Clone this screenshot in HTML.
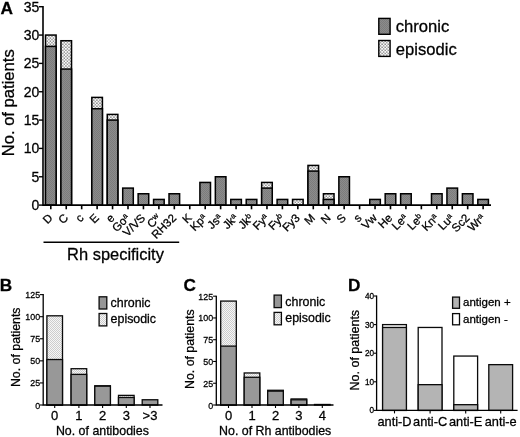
<!DOCTYPE html>
<html lang="en">
<head>
<meta charset="utf-8">
<title>Figure</title>
<style>
html,body{margin:0;padding:0;background:#fff;}
body{width:520px;height:437px;overflow:hidden;}
svg{display:block;font-family:"Liberation Sans", sans-serif;fill:#111;}
svg text{fill:#000;stroke:#000;stroke-width:.28px;}
</style>
</head>
<body>
<svg width="520" height="437" viewBox="0 0 520 437">
<defs>
<pattern id="pChronic" width="2" height="2" patternUnits="userSpaceOnUse">
<rect width="2" height="2" fill="#8c8c8c"/>
<rect width="1" height="1" fill="#7c7c7c"/><rect x="1" y="1" width="1" height="1" fill="#7c7c7c"/>
</pattern>
<pattern id="pEpis" width="3.1" height="3.1" patternUnits="userSpaceOnUse">
<rect width="3.1" height="3.1" fill="#fbfbfb"/>
<circle cx="0.8" cy="0.8" r="0.7" fill="#5a5a5a"/><circle cx="2.35" cy="2.35" r="0.7" fill="#5a5a5a"/>
</pattern>
<pattern id="pEpis2" width="2" height="2" patternUnits="userSpaceOnUse">
<rect width="2" height="2" fill="#f6f6f6"/>
<rect width="1" height="1" fill="#cdcdcd"/><rect x="1" y="1" width="1" height="1" fill="#cdcdcd"/>
</pattern>
</defs>
<rect width="520" height="437" fill="#fff"/>
<g id="panelA">
<rect x="45.50" y="35.06" width="10.60" height="170.04" fill="url(#pEpis)" stroke="#000" stroke-width="1.5"/>
<rect x="45.50" y="46.40" width="10.60" height="158.70" fill="url(#pChronic)" stroke="#000" stroke-width="1.5"/>
<rect x="60.94" y="40.73" width="10.60" height="164.37" fill="url(#pEpis)" stroke="#000" stroke-width="1.5"/>
<rect x="60.94" y="69.07" width="10.60" height="136.03" fill="url(#pChronic)" stroke="#000" stroke-width="1.5"/>

<rect x="91.82" y="97.41" width="10.60" height="107.69" fill="url(#pEpis)" stroke="#000" stroke-width="1.5"/>
<rect x="91.82" y="108.74" width="10.60" height="96.36" fill="url(#pChronic)" stroke="#000" stroke-width="1.5"/>
<rect x="107.26" y="114.41" width="10.60" height="90.69" fill="url(#pEpis)" stroke="#000" stroke-width="1.5"/>
<rect x="107.26" y="120.08" width="10.60" height="85.02" fill="url(#pChronic)" stroke="#000" stroke-width="1.5"/>
<rect x="122.70" y="188.10" width="10.60" height="17.00" fill="url(#pChronic)" stroke="#000" stroke-width="1.5"/>
<rect x="138.14" y="193.76" width="10.60" height="11.34" fill="url(#pChronic)" stroke="#000" stroke-width="1.5"/>
<rect x="153.58" y="199.43" width="10.60" height="5.67" fill="url(#pChronic)" stroke="#000" stroke-width="1.5"/>
<rect x="169.02" y="193.76" width="10.60" height="11.34" fill="url(#pChronic)" stroke="#000" stroke-width="1.5"/>

<rect x="199.90" y="182.43" width="10.60" height="22.67" fill="url(#pChronic)" stroke="#000" stroke-width="1.5"/>
<rect x="215.34" y="176.76" width="10.60" height="28.34" fill="url(#pChronic)" stroke="#000" stroke-width="1.5"/>
<rect x="230.78" y="199.43" width="10.60" height="5.67" fill="url(#pChronic)" stroke="#000" stroke-width="1.5"/>
<rect x="246.22" y="199.43" width="10.60" height="5.67" fill="url(#pChronic)" stroke="#000" stroke-width="1.5"/>
<rect x="261.66" y="182.43" width="10.60" height="22.67" fill="url(#pEpis)" stroke="#000" stroke-width="1.5"/>
<rect x="261.66" y="188.10" width="10.60" height="17.00" fill="url(#pChronic)" stroke="#000" stroke-width="1.5"/>
<rect x="277.10" y="199.43" width="10.60" height="5.67" fill="url(#pChronic)" stroke="#000" stroke-width="1.5"/>
<rect x="292.54" y="199.43" width="10.60" height="5.67" fill="url(#pEpis)" stroke="#000" stroke-width="1.5"/>
<rect x="307.98" y="165.42" width="10.60" height="39.68" fill="url(#pEpis)" stroke="#000" stroke-width="1.5"/>
<rect x="307.98" y="171.09" width="10.60" height="34.01" fill="url(#pChronic)" stroke="#000" stroke-width="1.5"/>
<rect x="323.42" y="193.76" width="10.60" height="11.34" fill="url(#pEpis)" stroke="#000" stroke-width="1.5"/>
<rect x="323.42" y="199.43" width="10.60" height="5.67" fill="url(#pChronic)" stroke="#000" stroke-width="1.5"/>
<rect x="338.86" y="176.76" width="10.60" height="28.34" fill="url(#pChronic)" stroke="#000" stroke-width="1.5"/>

<rect x="369.74" y="199.43" width="10.60" height="5.67" fill="url(#pChronic)" stroke="#000" stroke-width="1.5"/>
<rect x="385.18" y="193.76" width="10.60" height="11.34" fill="url(#pChronic)" stroke="#000" stroke-width="1.5"/>
<rect x="400.62" y="193.76" width="10.60" height="11.34" fill="url(#pChronic)" stroke="#000" stroke-width="1.5"/>

<rect x="431.50" y="193.76" width="10.60" height="11.34" fill="url(#pChronic)" stroke="#000" stroke-width="1.5"/>
<rect x="446.94" y="188.10" width="10.60" height="17.00" fill="url(#pChronic)" stroke="#000" stroke-width="1.5"/>
<rect x="462.38" y="193.76" width="10.60" height="11.34" fill="url(#pChronic)" stroke="#000" stroke-width="1.5"/>
<rect x="477.82" y="199.43" width="10.60" height="5.67" fill="url(#pChronic)" stroke="#000" stroke-width="1.5"/>
<path d="M43.0 6.0V205.1H491" fill="none" stroke="#000" stroke-width="1.6"/>
<path d="M39.00 205.10H43.0" stroke="#000" stroke-width="1.4"/>
<text x="39.40" y="210.10" font-size="14" text-anchor="end">0</text>
<path d="M39.00 176.76H43.0" stroke="#000" stroke-width="1.4"/>
<text x="39.40" y="181.76" font-size="14" text-anchor="end">5</text>
<path d="M39.00 148.42H43.0" stroke="#000" stroke-width="1.4"/>
<text x="39.40" y="153.42" font-size="14" text-anchor="end">10</text>
<path d="M39.00 120.08H43.0" stroke="#000" stroke-width="1.4"/>
<text x="39.40" y="125.08" font-size="14" text-anchor="end">15</text>
<path d="M39.00 91.74H43.0" stroke="#000" stroke-width="1.4"/>
<text x="39.40" y="96.74" font-size="14" text-anchor="end">20</text>
<path d="M39.00 63.40H43.0" stroke="#000" stroke-width="1.4"/>
<text x="39.40" y="68.40" font-size="14" text-anchor="end">25</text>
<path d="M39.00 35.06H43.0" stroke="#000" stroke-width="1.4"/>
<text x="39.40" y="40.06" font-size="14" text-anchor="end">30</text>
<path d="M39.00 6.72H43.0" stroke="#000" stroke-width="1.4"/>
<text x="39.40" y="11.72" font-size="14" text-anchor="end">35</text>
<path d="M50.80 205.1v4.2" stroke="#000" stroke-width="1.6"/>
<text transform="translate(53.40 218.70) rotate(-45)" font-size="11.5" text-anchor="end">D</text>
<path d="M66.24 205.1v4.2" stroke="#000" stroke-width="1.6"/>
<text transform="translate(68.84 218.70) rotate(-45)" font-size="11.5" text-anchor="end">C</text>
<path d="M81.68 205.1v4.2" stroke="#000" stroke-width="1.6"/>
<text transform="translate(84.28 218.70) rotate(-45)" font-size="11.5" text-anchor="end">c</text>
<path d="M97.12 205.1v4.2" stroke="#000" stroke-width="1.6"/>
<text transform="translate(99.72 218.70) rotate(-45)" font-size="11.5" text-anchor="end">E</text>
<path d="M112.56 205.1v4.2" stroke="#000" stroke-width="1.6"/>
<text transform="translate(115.16 218.70) rotate(-45)" font-size="11.5" text-anchor="end">e</text>
<path d="M128.00 205.1v4.2" stroke="#000" stroke-width="1.6"/>
<text transform="translate(130.60 218.70) rotate(-45)" font-size="11.5" text-anchor="end">Go<tspan font-size="7.6" dy="-3.6">a</tspan></text>
<path d="M143.44 205.1v4.2" stroke="#000" stroke-width="1.6"/>
<text transform="translate(146.04 218.70) rotate(-45)" font-size="11.5" text-anchor="end">V/VS</text>
<path d="M158.88 205.1v4.2" stroke="#000" stroke-width="1.6"/>
<text transform="translate(161.48 218.70) rotate(-45)" font-size="11.5" text-anchor="end">C<tspan font-size="7.6" dy="-3.6">w</tspan></text>
<path d="M174.32 205.1v4.2" stroke="#000" stroke-width="1.6"/>
<text transform="translate(176.92 218.70) rotate(-45)" font-size="11.5" text-anchor="end">RH32</text>
<path d="M189.76 205.1v4.2" stroke="#000" stroke-width="1.6"/>
<text transform="translate(192.36 218.70) rotate(-45)" font-size="11.5" text-anchor="end">K</text>
<path d="M205.20 205.1v4.2" stroke="#000" stroke-width="1.6"/>
<text transform="translate(207.80 218.70) rotate(-45)" font-size="11.5" text-anchor="end">Kp<tspan font-size="7.6" dy="-3.6">a</tspan></text>
<path d="M220.64 205.1v4.2" stroke="#000" stroke-width="1.6"/>
<text transform="translate(223.24 218.70) rotate(-45)" font-size="11.5" text-anchor="end">Js<tspan font-size="7.6" dy="-3.6">a</tspan></text>
<path d="M236.08 205.1v4.2" stroke="#000" stroke-width="1.6"/>
<text transform="translate(238.68 218.70) rotate(-45)" font-size="11.5" text-anchor="end">Jk<tspan font-size="7.6" dy="-3.6">a</tspan></text>
<path d="M251.52 205.1v4.2" stroke="#000" stroke-width="1.6"/>
<text transform="translate(254.12 218.70) rotate(-45)" font-size="11.5" text-anchor="end">Jk<tspan font-size="7.6" dy="-3.6">b</tspan></text>
<path d="M266.96 205.1v4.2" stroke="#000" stroke-width="1.6"/>
<text transform="translate(269.56 218.70) rotate(-45)" font-size="11.5" text-anchor="end">Fy<tspan font-size="7.6" dy="-3.6">a</tspan></text>
<path d="M282.40 205.1v4.2" stroke="#000" stroke-width="1.6"/>
<text transform="translate(285.00 218.70) rotate(-45)" font-size="11.5" text-anchor="end">Fy<tspan font-size="7.6" dy="-3.6">b</tspan></text>
<path d="M297.84 205.1v4.2" stroke="#000" stroke-width="1.6"/>
<text transform="translate(300.44 218.70) rotate(-45)" font-size="11.5" text-anchor="end">Fy3</text>
<path d="M313.28 205.1v4.2" stroke="#000" stroke-width="1.6"/>
<text transform="translate(315.88 218.70) rotate(-45)" font-size="11.5" text-anchor="end">M</text>
<path d="M328.72 205.1v4.2" stroke="#000" stroke-width="1.6"/>
<text transform="translate(331.32 218.70) rotate(-45)" font-size="11.5" text-anchor="end">N</text>
<path d="M344.16 205.1v4.2" stroke="#000" stroke-width="1.6"/>
<text transform="translate(346.76 218.70) rotate(-45)" font-size="11.5" text-anchor="end">S</text>
<path d="M359.60 205.1v4.2" stroke="#000" stroke-width="1.6"/>
<text transform="translate(362.20 218.70) rotate(-45)" font-size="11.5" text-anchor="end">s</text>
<path d="M375.04 205.1v4.2" stroke="#000" stroke-width="1.6"/>
<text transform="translate(377.64 218.70) rotate(-45)" font-size="11.5" text-anchor="end">Vw</text>
<path d="M390.48 205.1v4.2" stroke="#000" stroke-width="1.6"/>
<text transform="translate(393.08 218.70) rotate(-45)" font-size="11.5" text-anchor="end">He</text>
<path d="M405.92 205.1v4.2" stroke="#000" stroke-width="1.6"/>
<text transform="translate(408.52 218.70) rotate(-45)" font-size="11.5" text-anchor="end">Le<tspan font-size="7.6" dy="-3.6">a</tspan></text>
<path d="M421.36 205.1v4.2" stroke="#000" stroke-width="1.6"/>
<text transform="translate(423.96 218.70) rotate(-45)" font-size="11.5" text-anchor="end">Le<tspan font-size="7.6" dy="-3.6">b</tspan></text>
<path d="M436.80 205.1v4.2" stroke="#000" stroke-width="1.6"/>
<text transform="translate(439.40 218.70) rotate(-45)" font-size="11.5" text-anchor="end">Kn<tspan font-size="7.6" dy="-3.6">a</tspan></text>
<path d="M452.24 205.1v4.2" stroke="#000" stroke-width="1.6"/>
<text transform="translate(454.84 218.70) rotate(-45)" font-size="11.5" text-anchor="end">Lu<tspan font-size="7.6" dy="-3.6">a</tspan></text>
<path d="M467.68 205.1v4.2" stroke="#000" stroke-width="1.6"/>
<text transform="translate(470.28 218.70) rotate(-45)" font-size="11.5" text-anchor="end">Sc2</text>
<path d="M483.12 205.1v4.2" stroke="#000" stroke-width="1.6"/>
<text transform="translate(485.72 218.70) rotate(-45)" font-size="11.5" text-anchor="end">Wr<tspan font-size="7.6" dy="-3.6">a</tspan></text>
<text transform="translate(14.2 102.8) rotate(-90)" font-size="16.6" text-anchor="middle">No. of patients</text>
<text x="0.6" y="13.7" font-size="17.3" font-weight="bold">A</text>
<rect x="378.8" y="18.4" width="11.3" height="15.9" fill="url(#pChronic)" stroke="#000" stroke-width="1.4"/>
<rect x="378.8" y="40.5" width="11.3" height="15.9" fill="url(#pEpis)" stroke="#000" stroke-width="1.4"/>
<text x="395.8" y="32.3" font-size="16.6">chronic</text>
<text x="395.8" y="54.5" font-size="16.6">episodic</text>
<path d="M43.5 242.2H179.2" stroke="#000" stroke-width="1.5"/>
<text x="115.5" y="260" font-size="16.45" text-anchor="middle">Rh specificity</text>
</g>
<g id="panelB">
<rect x="46.90" y="315.80" width="15.60" height="89.20" fill="url(#pEpis2)" stroke="#0a0a0a" stroke-width="1.3"/>
<rect x="46.90" y="359.53" width="15.60" height="45.47" fill="#989898" stroke="#0a0a0a" stroke-width="1.3"/>
<rect x="71.10" y="368.71" width="15.60" height="36.29" fill="url(#pEpis2)" stroke="#0a0a0a" stroke-width="1.3"/>
<rect x="71.10" y="374.39" width="15.60" height="30.61" fill="#989898" stroke="#0a0a0a" stroke-width="1.3"/>
<rect x="94.80" y="385.76" width="15.60" height="19.24" fill="url(#pEpis2)" stroke="#0a0a0a" stroke-width="1.3"/>
<rect x="94.80" y="386.20" width="15.60" height="18.80" fill="#989898" stroke="#0a0a0a" stroke-width="1.3"/>
<rect x="118.50" y="395.38" width="15.60" height="9.62" fill="url(#pEpis2)" stroke="#0a0a0a" stroke-width="1.3"/>
<rect x="118.50" y="397.48" width="15.60" height="7.52" fill="#989898" stroke="#0a0a0a" stroke-width="1.3"/>
<rect x="142.20" y="399.75" width="15.60" height="5.25" fill="#989898" stroke="#0a0a0a" stroke-width="1.3"/>
<path d="M43.2 294.12V405.0H162.5" fill="none" stroke="#000" stroke-width="1.3"/>
<path d="M40.00 405.00H43.2" stroke="#000" stroke-width="1.1"/>
<text transform="translate(40.10 408.50) scale(.9 1)" font-size="9.9" text-anchor="end">0</text>
<path d="M40.00 382.93H43.2" stroke="#000" stroke-width="1.1"/>
<text transform="translate(40.10 386.43) scale(.9 1)" font-size="9.9" text-anchor="end">25</text>
<path d="M40.00 360.85H43.2" stroke="#000" stroke-width="1.1"/>
<text transform="translate(40.10 364.35) scale(.9 1)" font-size="9.9" text-anchor="end">50</text>
<path d="M40.00 338.77H43.2" stroke="#000" stroke-width="1.1"/>
<text transform="translate(40.10 342.27) scale(.9 1)" font-size="9.9" text-anchor="end">75</text>
<path d="M40.00 316.70H43.2" stroke="#000" stroke-width="1.1"/>
<text transform="translate(40.10 320.20) scale(.9 1)" font-size="9.9" text-anchor="end">100</text>
<path d="M40.00 294.62H43.2" stroke="#000" stroke-width="1.1"/>
<text transform="translate(40.10 298.12) scale(.9 1)" font-size="9.9" text-anchor="end">125</text>
<path d="M54.70 405.0v3" stroke="#000" stroke-width="1.1"/>
<text x="54.70" y="419.60" font-size="13" text-anchor="middle">0</text>
<path d="M78.90 405.0v3" stroke="#000" stroke-width="1.1"/>
<text x="78.90" y="419.60" font-size="13" text-anchor="middle">1</text>
<path d="M102.60 405.0v3" stroke="#000" stroke-width="1.1"/>
<text x="102.60" y="419.60" font-size="13" text-anchor="middle">2</text>
<path d="M126.30 405.0v3" stroke="#000" stroke-width="1.1"/>
<text x="126.30" y="419.60" font-size="13" text-anchor="middle">3</text>
<path d="M150.00 405.0v3" stroke="#000" stroke-width="1.1"/>
<text x="150.00" y="419.60" font-size="13" text-anchor="middle">&gt;3</text>
<text x="102.4" y="435.3" font-size="12.4" text-anchor="middle">No. of antibodies</text>
<text transform="translate(19.8 347.3) rotate(-90)" font-size="12.35" text-anchor="middle">No. of patients</text>
<text x="-0.3" y="290.8" font-size="17.2" font-weight="bold">B</text>
<rect x="99.1" y="296.8" width="7.7" height="12.2" fill="#969696" stroke="#0a0a0a" stroke-width="1.3"/><rect x="99.1" y="313.5" width="7.7" height="12.4" fill="url(#pEpis2)" stroke="#0a0a0a" stroke-width="1.3"/><text x="110.6" y="306.5" font-size="12.4">chronic</text><text x="110.6" y="323.4" font-size="12.4">episodic</text>
</g>
<g id="panelC">
<rect x="220.70" y="301.08" width="15.60" height="103.92" fill="url(#pEpis2)" stroke="#0a0a0a" stroke-width="1.3"/>
<rect x="220.70" y="346.11" width="15.60" height="58.89" fill="#989898" stroke="#0a0a0a" stroke-width="1.3"/>
<rect x="244.20" y="372.96" width="15.60" height="32.04" fill="url(#pEpis2)" stroke="#0a0a0a" stroke-width="1.3"/>
<rect x="244.20" y="377.29" width="15.60" height="27.71" fill="#989898" stroke="#0a0a0a" stroke-width="1.3"/>
<rect x="267.70" y="390.28" width="15.60" height="14.72" fill="url(#pEpis2)" stroke="#0a0a0a" stroke-width="1.3"/>
<rect x="267.70" y="391.14" width="15.60" height="13.86" fill="#989898" stroke="#0a0a0a" stroke-width="1.3"/>
<rect x="291.10" y="398.94" width="15.60" height="6.06" fill="url(#pEpis2)" stroke="#0a0a0a" stroke-width="1.3"/>
<rect x="291.10" y="399.80" width="15.60" height="5.20" fill="#989898" stroke="#0a0a0a" stroke-width="1.3"/>
<rect x="314.50" y="404.48" width="15.60" height="0.52" fill="#989898" stroke="#0a0a0a" stroke-width="1.3"/>
<path d="M216.3 295.69V405.0H333.5" fill="none" stroke="#000" stroke-width="1.3"/>
<path d="M213.10 405.00H216.3" stroke="#000" stroke-width="1.1"/>
<text transform="translate(213.20 408.50) scale(.9 1)" font-size="9.9" text-anchor="end">0</text>
<path d="M213.10 383.24H216.3" stroke="#000" stroke-width="1.1"/>
<text transform="translate(213.20 386.74) scale(.9 1)" font-size="9.9" text-anchor="end">25</text>
<path d="M213.10 361.48H216.3" stroke="#000" stroke-width="1.1"/>
<text transform="translate(213.20 364.98) scale(.9 1)" font-size="9.9" text-anchor="end">50</text>
<path d="M213.10 339.71H216.3" stroke="#000" stroke-width="1.1"/>
<text transform="translate(213.20 343.21) scale(.9 1)" font-size="9.9" text-anchor="end">75</text>
<path d="M213.10 317.95H216.3" stroke="#000" stroke-width="1.1"/>
<text transform="translate(213.20 321.45) scale(.9 1)" font-size="9.9" text-anchor="end">100</text>
<path d="M213.10 296.19H216.3" stroke="#000" stroke-width="1.1"/>
<text transform="translate(213.20 299.69) scale(.9 1)" font-size="9.9" text-anchor="end">125</text>
<path d="M228.50 405.0v3" stroke="#000" stroke-width="1.1"/>
<text x="228.50" y="419.60" font-size="13" text-anchor="middle">0</text>
<path d="M252.00 405.0v3" stroke="#000" stroke-width="1.1"/>
<text x="252.00" y="419.60" font-size="13" text-anchor="middle">1</text>
<path d="M275.50 405.0v3" stroke="#000" stroke-width="1.1"/>
<text x="275.50" y="419.60" font-size="13" text-anchor="middle">2</text>
<path d="M298.90 405.0v3" stroke="#000" stroke-width="1.1"/>
<text x="298.90" y="419.60" font-size="13" text-anchor="middle">3</text>
<path d="M322.30 405.0v3" stroke="#000" stroke-width="1.1"/>
<text x="322.30" y="419.60" font-size="13" text-anchor="middle">4</text>
<text x="275.2" y="435.3" font-size="12.4" text-anchor="middle">No. of Rh antibodies</text>
<text transform="translate(193.8 349.2) rotate(-90)" font-size="12.35" text-anchor="middle">No. of patients</text>
<text x="183.6" y="290.8" font-size="17.2" font-weight="bold">C</text>
<rect x="274.1" y="295.1" width="7.3" height="12.5" fill="#969696" stroke="#0a0a0a" stroke-width="1.3"/><rect x="274.1" y="312.4" width="7.3" height="12.4" fill="url(#pEpis2)" stroke="#0a0a0a" stroke-width="1.3"/><text x="285.3" y="305.5" font-size="12.4">chronic</text><text x="285.3" y="322.4" font-size="12.4">episodic</text>
</g>
<g id="panelD">
<rect x="382.60" y="324.60" width="23.80" height="85.80" fill="#fff" stroke="#0a0a0a" stroke-width="1.3"/>
<rect x="382.60" y="327.46" width="23.80" height="82.94" fill="#b4b4b4" stroke="#0a0a0a" stroke-width="1.3"/>
<rect x="418.20" y="327.46" width="23.80" height="82.94" fill="#fff" stroke="#0a0a0a" stroke-width="1.3"/>
<rect x="418.20" y="384.66" width="23.80" height="25.74" fill="#b4b4b4" stroke="#0a0a0a" stroke-width="1.3"/>
<rect x="453.80" y="356.06" width="23.80" height="54.34" fill="#fff" stroke="#0a0a0a" stroke-width="1.3"/>
<rect x="453.80" y="404.68" width="23.80" height="5.72" fill="#b4b4b4" stroke="#0a0a0a" stroke-width="1.3"/>
<rect x="488.80" y="364.64" width="23.80" height="45.76" fill="#b4b4b4" stroke="#0a0a0a" stroke-width="1.3"/>
<path d="M376.6 295.50V410.4H517.6" fill="none" stroke="#000" stroke-width="1.3"/>
<path d="M374.00 410.40H376.6" stroke="#000" stroke-width="1.1"/>
<text x="374.00" y="413.40" font-size="8.2" text-anchor="end">0</text>
<path d="M374.00 381.80H376.6" stroke="#000" stroke-width="1.1"/>
<text x="374.00" y="384.80" font-size="8.2" text-anchor="end">10</text>
<path d="M374.00 353.20H376.6" stroke="#000" stroke-width="1.1"/>
<text x="374.00" y="356.20" font-size="8.2" text-anchor="end">20</text>
<path d="M374.00 324.60H376.6" stroke="#000" stroke-width="1.1"/>
<text x="374.00" y="327.60" font-size="8.2" text-anchor="end">30</text>
<path d="M374.00 296.00H376.6" stroke="#000" stroke-width="1.1"/>
<text x="374.00" y="299.00" font-size="8.2" text-anchor="end">40</text>
<path d="M394.50 410.4v3" stroke="#000" stroke-width="1.1"/>
<text x="394.50" y="425.6" font-size="12.8" text-anchor="middle">anti-D</text>
<path d="M430.10 410.4v3" stroke="#000" stroke-width="1.1"/>
<text x="430.10" y="425.6" font-size="12.8" text-anchor="middle">anti-C</text>
<path d="M465.70 410.4v3" stroke="#000" stroke-width="1.1"/>
<text x="465.70" y="425.6" font-size="12.8" text-anchor="middle">anti-E</text>
<path d="M500.70 410.4v3" stroke="#000" stroke-width="1.1"/>
<text x="500.70" y="425.6" font-size="12.8" text-anchor="middle">anti-e</text>
<text transform="translate(358.9 350.2) rotate(-90)" font-size="12.5" text-anchor="middle">No. of patients</text>
<text x="348.0" y="290.8" font-size="17.2" font-weight="bold">D</text>
<rect x="452.6" y="297.1" width="6.9" height="11.2" fill="#b4b4b4" stroke="#0a0a0a" stroke-width="1.3"/>
<rect x="452.6" y="313.6" width="6.9" height="11.2" fill="#fff" stroke="#0a0a0a" stroke-width="1.3"/>
<text x="463" y="305.8" font-size="11.5">antigen +</text>
<text x="463" y="322.7" font-size="11.5">antigen -</text>
</g>
</svg>
</body>
</html>
